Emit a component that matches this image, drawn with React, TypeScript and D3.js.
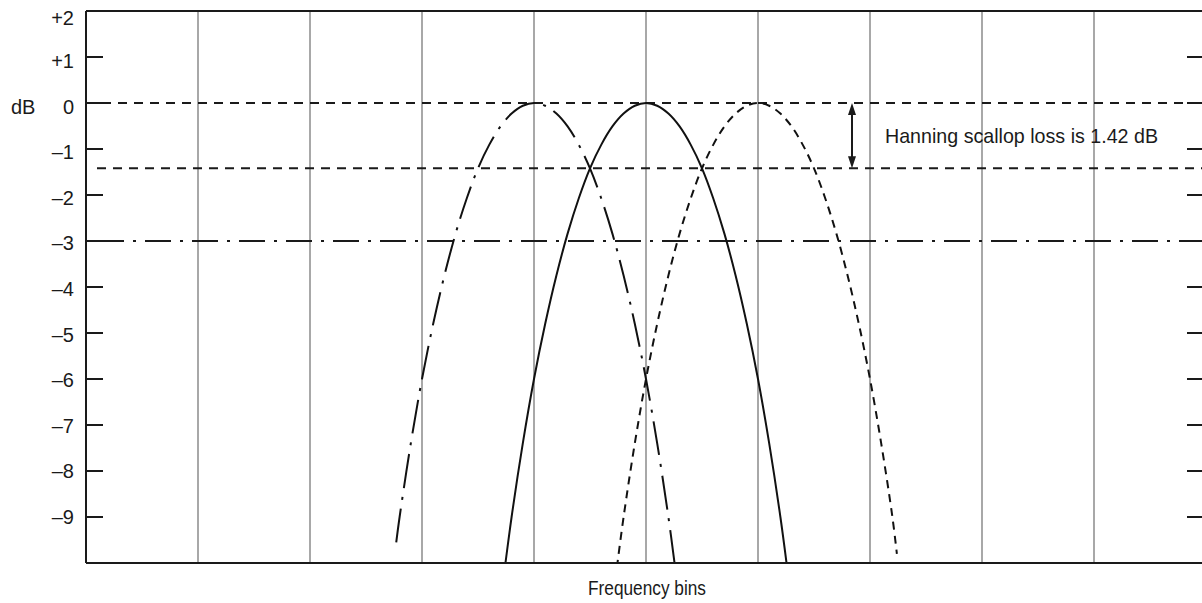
import React from "react";
import * as d3 from "d3";

// ---- data ----
const yTickValues = [2, 1, 0, -1, -2, -3, -4, -5, -6, -7, -8, -9];
const yTickLabels = ["+2", "+1", "0", "\u20131", "\u20132", "\u20133", "\u20134", "\u20135", "\u20136", "\u20137", "\u20138", "\u20139"];
const gridBins = [1, 2, 3, 4, 5, 6, 7, 8, 9];
const lobeCenters = [4, 5, 6];

const leftLobeOffsets = [-1.23, -1.2, -1.1, -1.0, -0.9, -0.8, -0.7, -0.6, -0.5, -0.4, -0.3, -0.2, -0.1, 0, 0.1, 0.2, 0.3, 0.4, 0.5, 0.6, 0.7, 0.8, 0.9, 1.0, 1.1, 1.2, 1.26];
const leftLobeDb = [-9.55, -9.0, -7.4, -6.0, -4.8, -3.75, -2.84, -2.07, -1.42, -0.91, -0.51, -0.23, -0.06, 0, -0.06, -0.23, -0.51, -0.91, -1.42, -2.07, -2.84, -3.75, -4.8, -6.0, -7.4, -9.0, -10.1];

const centerLobeOffsets = [-1.26, -1.2, -1.1, -1.0, -0.9, -0.8, -0.7, -0.6, -0.5, -0.4, -0.3, -0.2, -0.1, 0, 0.1, 0.2, 0.3, 0.4, 0.5, 0.6, 0.7, 0.8, 0.9, 1.0, 1.1, 1.2, 1.26];
const centerLobeDb = [-10.1, -9.0, -7.4, -6.0, -4.8, -3.75, -2.84, -2.07, -1.42, -0.91, -0.51, -0.23, -0.06, 0, -0.06, -0.23, -0.51, -0.91, -1.42, -2.07, -2.84, -3.75, -4.8, -6.0, -7.4, -9.0, -10.1];

const rightLobeOffsets = [-1.26, -1.2, -1.1, -1.0, -0.9, -0.8, -0.7, -0.6, -0.5, -0.4, -0.3, -0.2, -0.1, 0, 0.1, 0.2, 0.3, 0.4, 0.5, 0.6, 0.7, 0.8, 0.9, 1.0, 1.1, 1.2, 1.24];
const rightLobeDb = [-10.1, -9.0, -7.4, -6.0, -4.8, -3.75, -2.84, -2.07, -1.42, -0.91, -0.51, -0.23, -0.06, 0, -0.06, -0.23, -0.51, -0.91, -1.42, -2.07, -2.84, -3.75, -4.8, -6.0, -7.4, -9.0, -9.8];

const refLevels = [0, -1.42, -3];
const scallopLoss = 1.42;
const annotationText = "Hanning scallop loss is 1.42 dB";
const xAxisTitle = "Frequency bins";
const yAxisTitle = "dB";

export default function App() {
  const W = 1202, H = 603;
  const left = 86, right = 1206, top = 11, bottom = 563;
  const x = d3.scaleLinear().domain([0, 10]).range([left, right]);
  const y = d3.scaleLinear().domain([-10, 2]).range([bottom, top]);
  const font = "'Liberation Sans Narrow', 'Arial Narrow', 'Liberation Sans', sans-serif";
  const ink = "#1a1a1a";

  const line = d3
    .line<[number, number]>()
    .x((d) => x(d[0]))
    .y((d) => y(d[1]))
    .curve(d3.curveCatmullRom);

  const lobes = [
    { offs: leftLobeOffsets, db: leftLobeDb, center: lobeCenters[0], dash: "34,9,3,9" },
    { offs: centerLobeOffsets, db: centerLobeDb, center: lobeCenters[1], dash: undefined },
    { offs: rightLobeOffsets, db: rightLobeDb, center: lobeCenters[2], dash: "8,6" },
  ];

  const refDash = ["9,7", "9,7", "26,9,3,9"];
  const refStart = [left, left + 11, left + 12];

  const arrowX = 852;
  const ay0 = y(0), ay1 = y(-scallopLoss);

  const labelBaseline = (v: number) => (v === 2 ? y(v) + 14 : y(v) + 7 + (v + 9) * 0.4);

  return (
    <svg width={W} height={H} style={{ position: "absolute", left: 0, top: 0, background: "#fff" }}>
      <defs>
        <clipPath id="plotClip">
          <rect x={left} y={top} width={right - left} height={bottom - top} />
        </clipPath>
      </defs>
      {/* vertical grid */}
      {gridBins.map((b) => (
        <line key={"g" + b} x1={x(b)} x2={x(b)} y1={top} y2={bottom} stroke="#a8a8a8" strokeWidth={2} />
      ))}
      {/* reference lines */}
      {refLevels.map((lv, i) => (
        <line key={"r" + i} x1={refStart[i]} x2={W} y1={y(lv)} y2={y(lv)} stroke={ink} strokeWidth={2} strokeDasharray={refDash[i]} />
      ))}
      {/* lobes */}
      <g clipPath="url(#plotClip)">
        {lobes.map((l, i) => (
          <path
            key={"l" + i}
            d={line(l.offs.map((o, j) => [l.center + o, l.db[j]] as [number, number])) || ""}
            fill="none"
            stroke="#111"
            strokeWidth={2}
            strokeDasharray={l.dash}
          />
        ))}
      </g>
      {/* frame */}
      <line x1={left} x2={W} y1={top} y2={top} stroke={ink} strokeWidth={2} />
      <line x1={left} x2={W} y1={bottom} y2={bottom} stroke={ink} strokeWidth={2} />
      <line x1={left} x2={left} y1={top} y2={bottom} stroke={ink} strokeWidth={2} />
      {/* ticks */}
      {yTickValues.filter((v) => v < 2).map((v) => (
        <g key={"t" + v}>
          <line x1={left} x2={left + 17} y1={y(v)} y2={y(v)} stroke={ink} strokeWidth={2} />
          <line x1={right - 19} x2={W} y1={y(v)} y2={y(v)} stroke={ink} strokeWidth={2} />
        </g>
      ))}
      {yTickValues.map((v, i) => (
        <text key={"tl" + v} x={74} y={labelBaseline(v)} textAnchor="end" fontFamily={font} fontSize={20} fill={ink}>
          {yTickLabels[i]}
        </text>
      ))}
      <text x={11} y={y(0) + 11} fontFamily={font} fontSize={20} fill={ink}>
        {yAxisTitle}
      </text>
      <text x={588} y={595} fontFamily={font} fontSize={21} fill={ink} textLength={118} lengthAdjust="spacingAndGlyphs">
        {xAxisTitle}
      </text>
      {/* annotation arrow */}
      <line x1={arrowX} x2={arrowX} y1={ay0 + 8} y2={ay1 - 8} stroke={ink} strokeWidth={2} />
      <path d={`M${arrowX},${ay0} L${arrowX - 4},${ay0 + 12} L${arrowX + 4},${ay0 + 12} Z`} fill={ink} />
      <path d={`M${arrowX},${ay1} L${arrowX - 4},${ay1 - 12} L${arrowX + 4},${ay1 - 12} Z`} fill={ink} />
      <text x={885} y={143} fontFamily={font} fontSize={21} fill={ink} textLength={273} lengthAdjust="spacingAndGlyphs">
        {annotationText}
      </text>
    </svg>
  );
}
